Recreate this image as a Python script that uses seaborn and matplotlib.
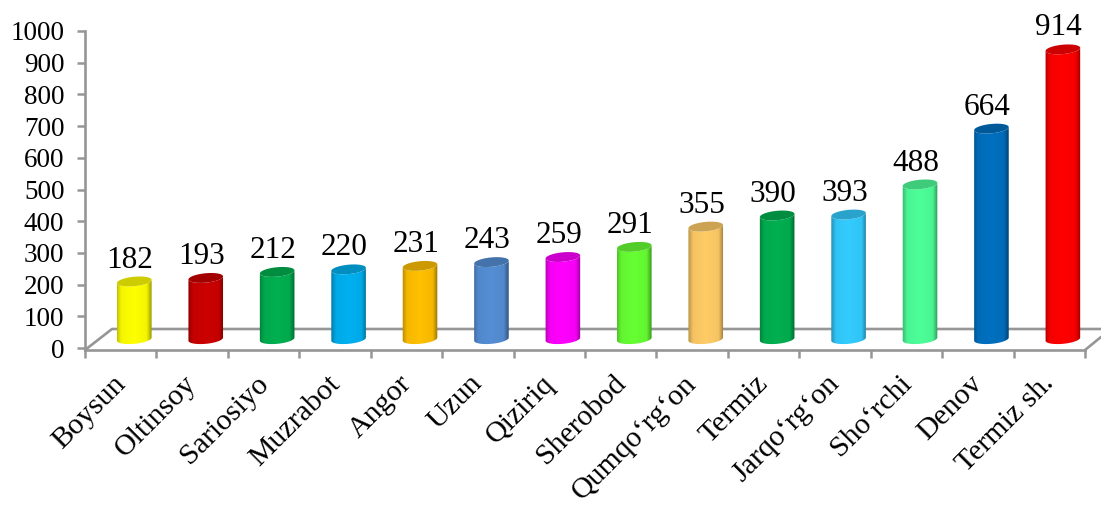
import numpy as np
import pandas as pd
import matplotlib
matplotlib.use("Agg")
import matplotlib.pyplot as plt
import seaborn as sns
from matplotlib.colors import LinearSegmentedColormap, to_rgb
from matplotlib.patches import PathPatch, Polygon
from matplotlib.path import Path
from matplotlib.transforms import ScaledTranslation

districts = ["Boysun", "Oltinsoy", "Sariosiyo", "Muzrabot", "Angor", "Uzun", "Qiziriq",
             "Sherobod", "Qumqo‘rg‘on", "Termiz", "Jarqo‘rg‘on", "Sho‘rchi", "Denov", "Termiz sh."]
values = [182, 193, 212, 220, 231, 243, 259, 291, 355, 390, 393, 488, 664, 914]
bar_colors = ["#FFFF00", "#CC0000", "#00B050", "#00B0F0", "#FFC000", "#558ED5", "#FF00FF",
              "#66FF33", "#FFCC66", "#00B050", "#33CCFF", "#4DFF99", "#0070C0", "#FF0000"]
y_ticks = list(range(0, 1001, 100))

W, H = 1101, 509
AX_LEFT, AX_RIGHT, AX_TOP, AX_BOTTOM = 85, 1085, 31, 350   # pixels
PX_Y = 1000 / 317      # data units per pixel, y
PX_X = 14 / (AX_RIGHT - AX_LEFT)
GREY = "#969696"
BASE = 28              # the cylinders stand back on the floor

sns.set_theme(style="white")
plt.rcParams["font.family"] = ["Liberation Serif", "DejaVu Serif"]

df = pd.DataFrame({"district": districts, "value": values})

fig = plt.figure(figsize=(W / 100, H / 100), dpi=100)
ax = fig.add_axes([AX_LEFT / W, 1 - AX_BOTTOM / H, (AX_RIGHT - AX_LEFT) / W, (AX_BOTTOM - AX_TOP) / H])
sns.barplot(data=df, x="district", y="value", hue="district", palette=bar_colors, legend=False,
            width=0.483, dodge=False, bottom=BASE, ax=ax)

x_left = (AX_LEFT - 134.3) * PX_X
x_lim = (x_left, x_left + 14)
y_lim = (-2 * PX_Y, 1000)


def ellipse_points(cx, cy, t):
    # slightly tilted ellipse, like the PowerPoint 3D cylinder
    rx, ry = 17.3, 4.7
    px = rx * np.cos(t)
    py = ry * np.sin(t) + 0.09 * px
    return cx + px * PX_X, cy + py * PX_Y


for patch, color in zip(ax.patches, bar_colors):
    patch.set_visible(False)
    x0, w = patch.get_x(), patch.get_width()
    y0, y1 = patch.get_y(), patch.get_y() + patch.get_height()
    cx = x0 + w / 2
    rgb = np.array(to_rgb(color))

    # body: lower half of the base ellipse, then up to the top ellipse
    bx, by = ellipse_points(cx, y0, np.linspace(np.pi, 2 * np.pi, 40))
    tx, ty = ellipse_points(cx, y1, np.linspace(0, -np.pi, 40))
    verts = np.column_stack([np.r_[bx, tx], np.r_[by, ty]])
    clip = PathPatch(Path(np.vstack([verts, verts[0]]), closed=True), transform=ax.transData,
                     facecolor="none", edgecolor="none")
    ax.add_patch(clip)

    shade = LinearSegmentedColormap.from_list(
        "cyl", [(0, rgb * 0.72), (0.14, rgb * 0.96), (0.5, rgb), (0.86, rgb * 0.96), (1, rgb * 0.6)])
    im = ax.imshow(np.linspace(0, 1, 64).reshape(1, -1), cmap=shade, aspect="auto",
                   extent=(cx - w / 2 - 0.01, cx + w / 2 + 0.01, y0 - 10 * PX_Y, y1 + 10 * PX_Y),
                   zorder=3, interpolation="bilinear")
    im.set_clip_path(clip)

    ex, ey = ellipse_points(cx, y1, np.linspace(0, 2 * np.pi, 60))
    ax.add_patch(Polygon(np.column_stack([ex, ey]), closed=True, facecolor=rgb * 0.8,
                         edgecolor="none", zorder=4))

    ax.annotate(f"{patch.get_height():.0f}", (cx, y1), xytext=(-3, 10), textcoords="offset points",
                ha="center", va="baseline", fontsize=22.5, color="black", zorder=5, annotation_clip=False)

ax.set_xlim(x_lim)
ax.set_ylim(y_lim)

# floor of the 3D chart
depth_x, depth_y = 27 * PX_X, 21 * PX_Y
ax.plot([x_lim[0], x_lim[0] + depth_x, x_lim[1] + 16 * PX_X], [y_lim[0], y_lim[0] + depth_y, y_lim[0] + depth_y],
        color=GREY, lw=1.9, clip_on=False, zorder=1)
ax.plot([x_lim[1], x_lim[1] + 16 * PX_X], [y_lim[0], y_lim[0] + 13 * PX_Y],
        color=GREY, lw=1.9, clip_on=False, zorder=1)

sns.despine(ax=ax, top=True, right=True)
for side in ("left", "bottom"):
    ax.spines[side].set_color(GREY)
    ax.spines[side].set_linewidth(1.9)

ax.set_xlabel("")
ax.set_ylabel("")
ax.set_yticks(y_ticks)
ax.tick_params(axis="y", length=5.8, width=1.8, color=GREY, labelsize=19.5, labelcolor="black", pad=9, left=True)

ax.set_xticks(range(len(districts)))
ax.set_xticks([x_lim[0] + i for i in range(15)], minor=True)
ax.set_xticklabels(districts, rotation=45, ha="right", va="top", rotation_mode="anchor", fontsize=21.5, color="black")
ax.tick_params(axis="x", which="major", length=0, pad=14)
ax.tick_params(axis="x", which="minor", length=5.8, width=1.8, color=GREY, bottom=True)
label_shift = ScaledTranslation(-22 / 100, -1 / 100, fig.dpi_scale_trans)
for label in ax.get_xticklabels():
    label.set_transform(label.get_transform() + label_shift)

fig.savefig("out.png", dpi=100, facecolor="white")
